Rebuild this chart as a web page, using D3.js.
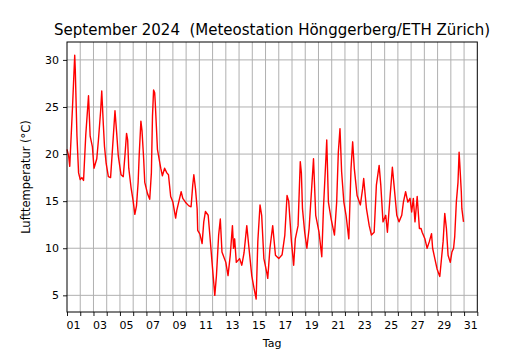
<!DOCTYPE html>
<html>
<head>
<meta charset="utf-8">
<script src="https://cdn.jsdelivr.net/npm/d3@7"></script>
<style>
  body { margin: 0; background: #fff; }
  text { font-family: "DejaVu Sans", sans-serif; }
</style>
</head>
<body>
<svg id="chart" width="530" height="350"></svg>
<script>
// hours since 1 Sep 00:00
var hours = [0, 3, 5, 10, 14, 15, 18, 21, 24, 27, 30, 34, 39, 42, 46, 49, 54, 57, 61, 63,
  66, 68, 71, 75, 79, 82, 87, 90, 93, 98, 102, 105, 108, 110, 112, 116, 120, 123, 126, 129,
  131, 134, 136, 139, 141, 146, 150, 153, 155, 157, 159, 160, 162, 164, 167, 170, 173, 177, 181, 184,
  188, 192, 197, 199, 203, 207, 210, 216, 221, 225, 228, 230, 233, 236, 237, 241, 245, 248, 251, 256,
  259, 263, 268, 271, 275, 278, 281, 288, 292, 296, 300, 302, 304, 307, 313, 317, 321, 326, 330, 335,
  339, 343, 346, 350, 353, 357, 362, 364, 368, 373, 378, 384, 390, 395, 399, 402, 407, 411, 414, 419,
  423, 425, 427, 431, 435, 439, 444, 447, 451, 457, 462, 465, 470, 471, 474, 479, 485, 489, 492, 495,
  498, 502, 506, 511, 515, 518, 521, 526, 532, 536, 538, 543, 548, 552, 557, 561, 566, 569, 573, 578,
  581, 586, 590, 593, 598, 602, 607, 610, 614, 618, 622, 625, 628, 631, 635, 639, 642, 644, 649, 653,
  657, 661, 663, 667, 671, 676, 682, 685, 688, 691, 695, 698, 701, 703, 706, 709, 711, 712, 715, 716, 719];

// air temperature in °C
var temps = [20.5, 19.8, 18.7, 25, 30.5, 29, 22, 18, 17.3, 17.5, 17.2, 22, 26.2, 21.9, 20.8, 18.5, 19.5, 21.5, 24.6, 26.7,
  23, 20.8, 19, 17.6, 17.5, 20.1, 24.6, 22.3, 19.8, 17.8, 17.6, 19.8, 22.2, 21.5, 18.5, 16.5, 15, 13.6, 14.5, 17,
  20, 23.5, 22.5, 19.5, 17, 15.8, 15.2, 18, 24, 26.8, 26.5, 25.5, 23, 20.5, 19.5, 18.5, 17.7, 18.5, 18, 17.8,
  15.5, 14.9, 13.2, 14, 15, 16, 15.3, 14.8, 14.5, 14.4, 16.7, 17.8, 16.3, 14.2, 11.9, 11.5, 10.5, 12.8, 13.9, 13.5,
  11.4, 8.5, 5.0, 7.1, 11.4, 13.1, 9.6, 8.5, 7.1, 9.25, 12.4, 10, 11, 8.5, 8.9, 8.2, 9.5, 12.4, 10, 7.1,
  5.8, 4.6, 10.7, 14.6, 13.5, 8.9, 7.5, 6.8, 10, 12.4, 9.25, 8.9, 9.3, 11.4, 15.6, 15, 10.7, 8.2, 11, 12.4,
  19.2, 18, 14.2, 11.7, 10, 12.1, 16.7, 19.5, 13.5, 11.7, 9.1, 14.2, 20.2, 21.5, 14.9, 13.1, 11.4, 14.9, 20.2, 22.7,
  18.1, 14.9, 13.5, 11, 18.45, 21.3, 18.45, 15.6, 14.6, 16.3, 17.4, 14.2, 12.4, 11.4, 11.7, 16.7, 18.8, 16.7, 12.8, 13.5,
  11.7, 15.6, 18.6, 16.7, 13.5, 12.8, 13.5, 14.9, 16, 14.9, 15.3, 13.85, 15.3, 12.8, 15.5, 12.1, 12.1, 11.7, 11, 10,
  10.7, 11.55, 10, 8.9, 7.8, 7.0, 10.7, 13.7, 12.1, 9.25, 8.5, 9.6, 10, 11.2, 14.9, 17, 20.2, 19.2, 16, 14.2, 12.8];

var dayLabels = ["01", "03", "05", "07", "09", "11", "13", "15", "17", "19", "21", "23", "25", "27", "29", "31"];
var yTicks = [5, 10, 15, 20, 25, 30];

var svg = d3.select('#chart');
var plot = { left: 67, right: 477.3, top: 42, bottom: 312 };

var x = d3.scaleLinear().domain([0, 31 * 24]).range([plot.left, plot.right]);
var y = d3.scaleLinear().domain([3.23, 31.9]).range([plot.bottom, plot.top]);

// grid
var grid = svg.append('g');
grid.selectAll('line.gx')
    .data(d3.range(1, 31))
    .enter().append('line')
    .attr('x1', function(d) { return x(d * 24); })
    .attr('x2', function(d) { return x(d * 24); })
    .attr('y1', plot.top).attr('y2', plot.bottom)
    .style('stroke', '#b0b0b0').style('stroke-width', '1px');
grid.selectAll('line.gy')
    .data(yTicks)
    .enter().append('line')
    .attr('x1', plot.left).attr('x2', plot.right)
    .attr('y1', function(d) { return y(d); })
    .attr('y2', function(d) { return y(d); })
    .style('stroke', '#b0b0b0').style('stroke-width', '1px');

// temperature line
var line = d3.line()
    .x(function(d, i) { return x(hours[i]); })
    .y(function(d) { return y(d); });

svg.append('path')
    .datum(temps)
    .attr('d', line)
    .style('fill', 'none')
    .style('stroke', 'red')
    .style('stroke-width', '1.4px')
    .style('stroke-linejoin', 'round');

// axes
var xAxis = d3.axisBottom(x)
    .tickValues(d3.range(0, 32).map(function(d) { return d * 24; }))
    .tickSize(4)
    .tickFormat('');
var gx = svg.append('g')
    .attr('transform', 'translate(0,' + plot.bottom + ')')
    .call(xAxis);
gx.select('.domain').remove();

gx.selectAll('text.day')
    .data(dayLabels)
    .enter().append('text')
    .attr('class', 'day')
    .attr('x', function(d) { return x((+d - 0.5) * 24); })
    .attr('y', 17)
    .attr('text-anchor', 'middle')
    .style('font-size', '11px')
    .style('fill', '#000')
    .text(function(d) { return d; });

var yAxis = d3.axisLeft(y)
    .tickValues(yTicks)
    .tickSize(4)
    .tickPadding(4);
var gy = svg.append('g')
    .attr('transform', 'translate(' + plot.left + ',0)')
    .call(yAxis);
gy.select('.domain').remove();
gy.selectAll('text').style('font-size', '11px').style('font-family', '"DejaVu Sans", sans-serif');

svg.selectAll('.tick line').style('stroke', '#000').style('stroke-width', '0.9px');

// frame
svg.append('rect')
    .attr('x', plot.left).attr('y', plot.top)
    .attr('width', plot.right - plot.left).attr('height', plot.bottom - plot.top)
    .style('fill', 'none')
    .style('stroke', '#000')
    .style('stroke-width', '1px');

// titles
svg.append('text')
    .attr('x', (plot.left + plot.right) / 2)
    .attr('y', 35)
    .attr('text-anchor', 'middle')
    .style('font-size', '15px')
    .style('white-space', 'pre')
    .text('September 2024  (Meteostation Hönggerberg/ETH Zürich)');

svg.append('text')
    .attr('x', (plot.left + plot.right) / 2)
    .attr('y', 347)
    .attr('text-anchor', 'middle')
    .style('font-size', '11px')
    .text('Tag');

svg.append('text')
    .attr('transform', 'translate(30,' + ((plot.top + plot.bottom) / 2) + ') rotate(-90)')
    .attr('text-anchor', 'middle')
    .style('font-size', '11.5px')
    .text('Lufttemperatur (°C)');
</script>
</body>
</html>
